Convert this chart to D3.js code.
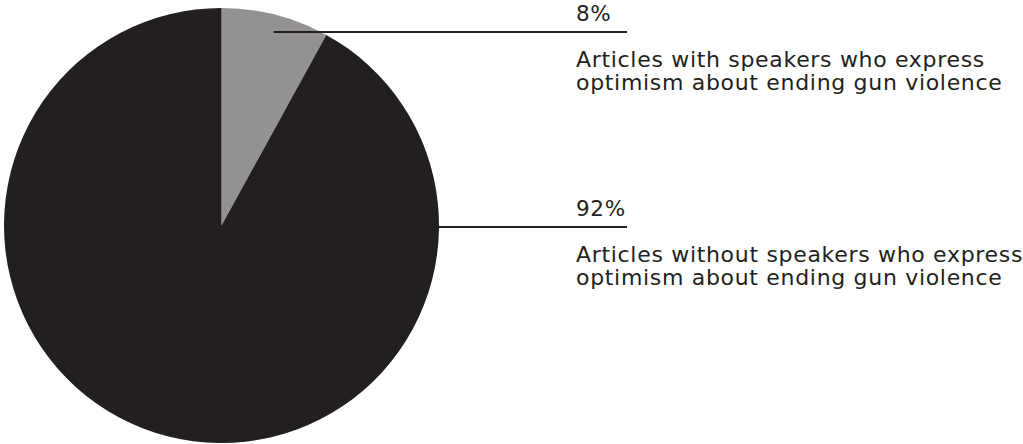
<!DOCTYPE html>
<html>
<head>
<meta charset="utf-8">
<script src="https://cdn.jsdelivr.net/npm/d3@7"></script>
<style>
  html, body { margin: 0; padding: 0; background: #ffffff; }
  svg { display: block; }
  text { font-family: "DejaVu Sans", sans-serif; fill: #231f20; }
</style>
</head>
<body>
<svg id="chart" width="1023" height="444"></svg>
<script>
// Share of articles, by whether speakers express optimism about ending gun violence
const categories = ["with", "without"];
const values = [8, 92];
const valueLabels = ["8%", "92%"];
const descriptions = [
  ["Articles with speakers who express", "optimism about ending gun violence"],
  ["Articles without speakers who express", "optimism about ending gun violence"]
];
const colors = ["#939191", "#231f20"];

const svg = d3.select("#chart");
const cx = 221.5, cy = 225.5, radius = 217.5;

const pie = d3.pie().sort(null).value(d => d)(values);
const arc = d3.arc().innerRadius(0).outerRadius(radius);

const g = svg.append("g").attr("transform", `translate(${cx},${cy})`);
g.selectAll("path")
  .data(pie)
  .join("path")
  .attr("d", arc)
  .attr("fill", (d, i) => colors[i]);

// Label blocks: value, leader line, two-line description
const labelX = 576;
const lineEnd = 627;
const labelTop = [21, 216];          // value baselines
const ruleOffset = 11;               // rule below the value
const descOffset = [46, 69];         // description baselines below the value

pie.forEach((d, i) => {
  const y = labelTop[i] + ruleOffset;
  let x0;
  if (i === 0) {
    const mid = (d.startAngle + d.endAngle) / 2;
    x0 = cx + radius * 0.97 * Math.sin(mid);
  } else {
    const dy = y - cy;
    x0 = cx + Math.sqrt(radius * radius - dy * dy) - 2;
  }
  svg.append("line")
    .attr("x1", x0).attr("x2", lineEnd)
    .attr("y1", y).attr("y2", y)
    .attr("stroke", "#231f20").attr("stroke-width", 2);

  svg.append("text")
    .attr("x", labelX).attr("y", labelTop[i])
    .attr("font-size", 21.5)
    .text(valueLabels[i]);

  descriptions[i].forEach((line, j) => {
    svg.append("text")
      .attr("class", "desc")
      .attr("x", labelX).attr("y", labelTop[i] + descOffset[j])
      .attr("font-size", 22)
      .text(line);
  });
});

// Slightly open the tracking so the first description line spans to x≈985
const ref = svg.select("text.desc").node();
const natural = ref.getComputedTextLength();
const target = 985 - labelX;
const n = descriptions[0][0].length;
const spacing = Math.max(0, (target - natural) / n);
svg.selectAll("text").attr("letter-spacing", spacing);
</script>
</body>
</html>
